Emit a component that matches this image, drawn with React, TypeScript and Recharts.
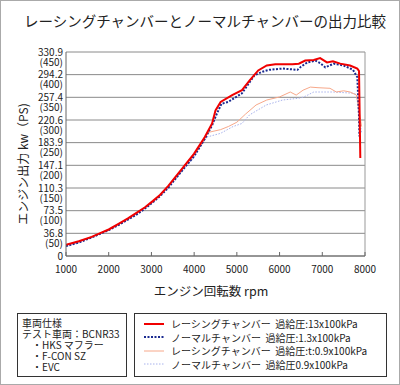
import { LineChart, Line, XAxis, YAxis, CartesianGrid, ReferenceLine } from 'recharts'

const FONT = '"Noto Sans CJK JP", "Noto Sans", sans-serif'

/* ─── axis ticks ─── */
const rpmTicks = [1000, 2000, 3000, 4000, 5000, 6000, 7000, 8000]
const kwTicks = [0, 36.8, 73.5, 110.3, 147.1, 183.9, 220.6, 257.4, 294.2, 330.9]
const psTicks = ['', '50', '100', '150', '200', '250', '300', '350', '400', '450']

/* ─── series: racing chamber 1.3 bar ─── */
const racing13Rpm = [1000, 1300, 1600, 1800, 2000, 2250, 2450, 2650, 2850, 3030, 3200, 3400, 3700, 4000, 4250, 4420, 4500, 4620, 4890, 5120, 5300, 5500, 5700, 5900, 6100, 6300, 6450, 6600, 6800, 6950, 7110, 7250, 7420, 7650, 7820, 7860, 7890]
const racing13Kw = [18, 24, 31, 37, 43, 53, 61, 70, 79, 89, 99, 114, 140, 166, 193, 215, 236, 250, 261, 269, 285, 301, 309, 311, 311, 311, 312, 317, 318, 321, 314, 316, 312, 309, 304, 300, 159]

/* ─── series: normal chamber 1.3 bar ─── */
const normal13Rpm = [1000, 1300, 1600, 1800, 2000, 2250, 2450, 2650, 2850, 3030, 3200, 3400, 3700, 4000, 4250, 4420, 4520, 4640, 4800, 5120, 5410, 5600, 5760, 5900, 6070, 6250, 6420, 6500, 6650, 6840, 6950, 7070, 7270, 7500, 7720, 7820, 7860, 7870]
const normal13Kw = [16, 22, 30, 36, 42, 51, 59, 67, 77, 87, 97, 111, 137, 162, 190, 212, 229, 247, 250, 264, 293, 299, 302, 303, 304, 303, 302, 307, 314, 317, 313, 306, 312, 309, 302, 290, 226, 194]

/* ─── series: racing chamber 0.9 bar ─── */
const racing09Rpm = [1000, 1300, 1600, 2000, 2450, 2850, 3030, 3400, 3700, 4000, 4200, 4300, 4620, 4800, 5000, 5200, 5450, 5700, 6000, 6250, 6390, 6550, 6720, 6900, 7180, 7330, 7500, 7650, 7800, 7920]
const racing09Kw = [18, 24, 31, 43, 61, 79, 88, 113, 138, 164, 183, 200, 205, 210, 217, 230, 245, 253, 258, 266, 261, 269, 274, 273, 272, 266, 268, 266, 261, 210]

/* ─── series: normal chamber 0.9 bar ─── */
const normal09Rpm = [1000, 1300, 1600, 2000, 2450, 2850, 3030, 3400, 3700, 4000, 4150, 4300, 4620, 4910, 5120, 5300, 5690, 6070, 6460, 6570, 6800, 7260, 7730, 7800, 7920]
const normal09Kw = [16, 22, 30, 42, 59, 77, 87, 111, 136, 160, 178, 193, 199, 210, 215, 229, 245, 253, 256, 258, 266, 266, 264, 262, 199]

const toRows = (rpm: number[], kw: number[]) => rpm.map((r, i) => ({ rpm: r, kw: kw[i] }))

const SERIES = [
  { key: 'r13', rows: toRows(racing13Rpm, racing13Kw), color: '#F00000', width: 2, dash: undefined, label: 'レーシングチャンバー  過給圧:13x100kPa' },
  { key: 'n13', rows: toRows(normal13Rpm, normal13Kw), color: '#1A2A90', width: 2, dash: '2 1.5', label: 'ノーマルチャンバー  過給圧:1.3x100kPa' },
  { key: 'r09', rows: toRows(racing09Rpm, racing09Kw), color: '#F7A88A', width: 1, dash: undefined, label: 'レーシングチャンバー  過給圧:t:0.9x100kPa' },
  { key: 'n09', rows: toRows(normal09Rpm, normal09Kw), color: '#A8B2EC', width: 1, dash: '1.5 1.5', label: 'ノーマルチャンバー  過給圧0.9x100kPa' },
]

const specLines = ['車両仕様', 'テスト車両：BCNR33', '　・HKS マフラー', '　・F-CON SZ', '　・EVC']

function KwTick({ x, y, payload }: any) {
  const i = kwTicks.indexOf(payload.value)
  const ps = psTicks[i]
  return (
    <g fontFamily={FONT} fontSize={10} fill="#222">
      <text x={x} y={y} dy={3.5} textAnchor="end">{payload.value}</text>
      {ps && <text x={x} y={y} dy={13.5} textAnchor="end">({ps})</text>}
    </g>
  )
}

const abs = (left: number, top: number, extra: React.CSSProperties = {}): React.CSSProperties => ({
  position: 'absolute', left, top, fontFamily: FONT, color: '#222', ...extra,
})

export default function App() {
  return (
    <div style={{ position: 'absolute', left: 0, top: 0, width: 400, height: 385, background: '#fff', border: '1px solid #aaa', boxSizing: 'border-box' }}>
      <div style={abs(0, 10, { width: 408, textAlign: 'center', fontSize: 14.5, lineHeight: '20px', whiteSpace: 'nowrap' })}>
        レーシングチャンバーとノーマルチャンバーの出力比較
      </div>

      <div style={abs(-48, 154, { width: 140, textAlign: 'center', fontSize: 12, lineHeight: '18px', transform: 'rotate(-90deg)', whiteSpace: 'nowrap' })}>
        エンジン出力 kw（PS)
      </div>

      <div style={abs(0, 281, { width: 420, textAlign: 'center', fontSize: 12.5, lineHeight: '18px' })}>
        エンジン回転数 rpm
      </div>

      <div style={{ position: 'absolute', left: -1, top: -1 }}>
        <LineChart width={400} height={385} margin={{ top: 52, right: 35, bottom: 99, left: 6 }}>
          <CartesianGrid vertical={false} stroke="#8a8a8a" />
          <XAxis
            type="number" dataKey="rpm" domain={[1000, 8000]} ticks={rpmTicks}
            allowDataOverflow height={30} interval={0}
            axisLine={{ stroke: '#666' }} tickLine={{ stroke: '#666' }}
            tickSize={-4} tickMargin={14}
            tick={{ fontSize: 10, fill: '#222', fontFamily: FONT }}
          />
          <YAxis
            type="number" domain={[0, 330.9]} ticks={kwTicks} width={60}
            allowDataOverflow interval={0}
            axisLine={{ stroke: '#666' }} tickLine={false}
            tickSize={0} tickMargin={3}
            tick={<KwTick />}
          />
          <ReferenceLine x={8000} stroke="#999" />
          {SERIES.slice().reverse().map((s) => (
            <Line
              key={s.key} data={s.rows} dataKey="kw" type="linear"
              stroke={s.color} strokeWidth={s.width} strokeDasharray={s.dash}
              dot={false} activeDot={false} isAnimationActive={false}
            />
          ))}
        </LineChart>
      </div>

      <div style={abs(16, 312, { width: 110, height: 64, border: '1.5px solid #333', boxSizing: 'border-box', padding: '3px 0 0 4px', fontSize: 10, lineHeight: '11px' })}>
        {specLines.map((t) => <div key={t} style={{ whiteSpace: 'pre' }}>{t}</div>)}
      </div>

      <div style={abs(133, 312, { width: 253, height: 64, border: '1.5px solid #333', boxSizing: 'border-box', padding: '3px 0 0 8px', fontSize: 10, lineHeight: '13.5px' })}>
        {SERIES.map((s) => (
          <div key={s.key} style={{ display: 'flex', alignItems: 'center', whiteSpace: 'pre' }}>
            <svg width={22} height={6} style={{ marginRight: 6 }}>
              <line x1={1} y1={3} x2={21} y2={3} stroke={s.color} strokeWidth={s.width} strokeDasharray={s.dash} />
            </svg>
            {s.label}
          </div>
        ))}
      </div>
    </div>
  )
}
